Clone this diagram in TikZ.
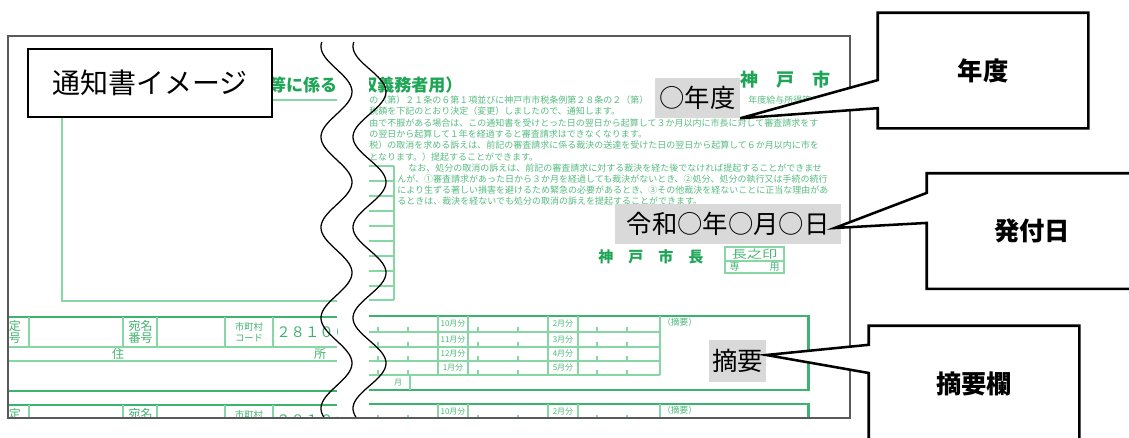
\documentclass[tikz,border=0pt]{standalone}
\usepackage{fontspec}
\newfontfamily\jp{Noto Sans CJK JP}
\usepackage{xcolor}
\usepackage{tikz}
\usetikzlibrary{calc}

\definecolor{formgreen}{RGB}{30,165,85}
\definecolor{linegreen}{RGB}{135,215,165}
\definecolor{rulegreen}{RGB}{60,180,110}
\definecolor{markgray}{RGB}{217,217,217}

\begin{document}
\begin{tikzpicture}[x=0.75pt, y=-0.75pt,
  frameline/.style={draw=black!65, line width=0.9pt},
  thinrule/.style={draw=linegreen, line width=0.8pt},
  thickrule/.style={draw=rulegreen, line width=1.8pt},
  smalltxt/.style={text=formgreen!75, font=\jp\fontsize{6.75}{7}\selectfont, inner sep=0pt, anchor=west},
  celltxt/.style={text=formgreen!85, font=\jp\fontsize{9}{8.5}\selectfont, inner sep=0pt, align=center},
  monthtxt/.style={text=formgreen!80, font=\jp\fontsize{6}{6}\selectfont, inner sep=0pt},
  titletxt/.style={text=formgreen, font=\jp\bfseries\fontsize{12.75}{12.75}\selectfont, inner sep=0pt},
  marklabel/.style={fill=markgray, font=\jp\fontsize{19}{19}\selectfont, inner sep=0pt},
  callbox/.style={minimum width=157.5pt, minimum height=86.25pt, inner sep=0pt},
  calltext/.style={font=\jp\bfseries\fontsize{19}{19}\selectfont, inner sep=0pt},
  callline/.style={draw=black, fill=white, line width=1.9pt, line join=miter},
  wave/.style={draw=black, line width=0.95pt}]
\useasboundingbox (0,0) rectangle (1129,437);
\clip (0,0) rectangle (1129,437);

% left piece of the form
\begin{scope}
\clip (8,36) rectangle (337,418);
\node[titletxt, anchor=east] (ttlLeft) at (337.5,85) {等に係る};
\draw[thinrule] (62,100) rectangle (345,301);
\foreach \y in {317,405} {
  \draw[thickrule] (8,\y) -- (337,\y);
  \draw[thinrule] (8,\y+30) -- (337,\y+30);
  \draw[thinrule] (8,\y+44) -- (337,\y+44);
  \draw[thickrule] (8,\y+74) -- (337,\y+74);
  \foreach \x in {29,123,157,225,273} \draw[thinrule] (\x,\y) -- (\x,\y+30);
  \node[celltxt] (cNum\y) at (9,\y+15) {指定\\番号};
  \node[celltxt] (cAddr\y) at (140.5,\y+15) {宛名\\番号};
  \node[celltxt, font=\jp\fontsize{7}{8.5}\selectfont] (cCity\y) at (249,\y+15) {市町村\\コード};
  \node[celltxt, font=\jp\fontsize{10.8}{10.8}\selectfont, anchor=west] (cCode\y) at (276,\y+15) {２８１００};
  \node[celltxt] (cJu\y) at (118,\y+37) {住};
  \node[celltxt] (cSho\y) at (320,\y+37) {所};
}
\end{scope}

% right piece of the form
\begin{scope}
\clip (369,36) rectangle (850,418);
\node[titletxt, anchor=west] (ttlRight) at (343,85) {徴収義務者用）};
\node[titletxt, anchor=west, font=\jp\bfseries\fontsize{13.5}{13.5}\selectfont] (cityTop) at (740,80) {神　戸　市};
\node[smalltxt] (ln1) at (369,100) {の（第）２１条の６第１項並びに神戸市市税条例第２８条の２（第）};
\node[smalltxt] (ln1b) at (748,100) {年度給与所得等に係};
\foreach \yy/\xx/\txt in {
  111.3/369/税額を下記のとおり決定（変更）しましたので、通知します。,
  122.6/369/由で不服がある場合は、この通知書を受けとった日の翌日から起算して３か月以内に市長に対して審査請求をす,
  134/369/の翌日から起算して１年を経過すると審査請求はできなくなります。,
  145.3/369/税）の取消を求める訴えは、前記の審査請求に係る裁決の送達を受けた日の翌日から起算して６か月以内に市を,
  156.6/369/となります。）提起することができます。,
  168/408/なお、処分の取消の訴えは、前記の審査請求に対する裁決を経た後でなければ提起することができませ,
  179/397/んが、①審査請求があった日から３か月を経過しても裁決がないとき、②処分、処分の執行又は手続の続行,
  190/397/により生ずる著しい損害を避けるため緊急の必要があるとき、③その他裁決を経ないことに正当な理由があ,
  201/397/るときは、裁決を経ないでも処分の取消の訴えを提起することができます。}
  \node[smalltxt] (ln\yy) at (\xx,\yy) {\txt};
\foreach \yy in {166,181,196,211,226,241,256,271,286,300} \draw[thinrule] (360,\yy) -- (394,\yy);
\draw[thinrule] (394,166) -- (394,300);
\node[titletxt, anchor=west, font=\jp\bfseries\fontsize{11.25}{11.25}\selectfont] (mayor) at (598,257) {神　戸　市　長};
\draw[thinrule] (725,247) rectangle (784,273);
\draw[thinrule] (725,261) -- (784,261);
\node[monthtxt, font=\jp\fontsize{8.5}{8.5}\selectfont] (seal) at (754.5,254) {\scalebox{1.35}[1]{長之印}};
\node[monthtxt, font=\jp\fontsize{7.5}{7.5}\selectfont] (sealUse) at (754.5,267) {専　　　用};
\foreach \y in {316,404} {
  \draw[thickrule] (360,\y) -- (808.5,\y) -- (808.5,\y+74) -- (360,\y+74);
  \foreach \r in {16,31,45,59} \draw[thinrule] (360,\y+\r) -- (660,\y+\r);
  \foreach \x in {438,468,548,578,660} \draw[thinrule] (\x,\y) -- (\x,\y+59);
  \foreach \x in {378,408,478,518,597,627}
    \foreach \r in {16,31,45,59} \draw[thinrule] (\x,\y+\r-5) -- (\x,\y+\r);
  \foreach \m/\n/\r in {10/2/8, 11/3/23.5, 12/4/38, 1/5/52} {
    \node[monthtxt] (mA\y-\m) at (453,\y+\r) {\m{}月分};
    \node[monthtxt] (mB\y-\n) at (563,\y+\r) {\n{}月分};
  }
  \draw[thinrule] (410,\y+59) -- (410,\y+74);
  \node[monthtxt] (mon\y) at (398,\y+66.5) {月};
  \node[monthtxt, anchor=west, font=\jp\fontsize{6.5}{6.5}\selectfont] (tek\y) at (662,\y+6) {（摘要）};
}
\end{scope}

\draw[frameline] (8,36) rectangle (850,418);

% break lines
\draw[wave] plot[domain=42:417, samples=150, smooth, variable=\t] ({336.5+15.5*cos(3.978*(\t-91.7))}, \t);
\draw[wave] plot[domain=42:417, samples=150, smooth, variable=\t] ({369.5+16.5*cos(3.978*(\t-91.7))}, \t);

\node[draw=black, line width=1.1pt, fill=white, minimum width=183pt, minimum height=51pt,
  font=\jp\fontsize{21}{21}\selectfont] (lblImage) at (150,83) {通知書イメージ};

% marked items
\node[marklabel, minimum width=63.75pt, minimum height=30pt] (markYear) at (697.5,98) {○年度};
\node[marklabel, minimum width=169.5pt, minimum height=30pt] (markDate) at (728,224) {令和○年○月○日};
\node[marklabel, minimum width=42.4pt, minimum height=31.5pt] (markNote) at (737.75,361) {摘要};

% callouts
\path (983,70.5) node[callbox] (boxYear) {};
\path (1032,231) node[callbox] (boxDate) {};
\path (974,383.5) node[callbox] (boxNote) {};
\filldraw[callline] (boxYear.north west) -- ($(boxYear.north west)!0.583!(boxYear.south west)$)
  -- (markYear.south east) -- ($(boxYear.north west)!0.826!(boxYear.south west)$)
  -- (boxYear.south west) -- (boxYear.south east) -- (boxYear.north east) -- cycle;
\filldraw[callline] (boxDate.north west) -- ($(boxDate.north west)!0.17!(boxDate.south west)$)
  -- ([xshift=-5pt,yshift=-3pt]markDate.east) -- ($(boxDate.north west)!0.43!(boxDate.south west)$)
  -- (boxDate.south west) -- (boxDate.south east) -- (boxDate.north east) -- cycle;
\filldraw[callline] (boxNote.north west) -- ($(boxNote.north west)!0.165!(boxNote.south west)$)
  -- ([yshift=4.5pt]markNote.east) -- ($(boxNote.north west)!0.409!(boxNote.south west)$)
  -- (boxNote.south west) -- (boxNote.south east) -- (boxNote.north east) -- cycle;
\node[calltext] (txtYear) at (boxYear) {年度};
\node[calltext] (txtDate) at (boxDate) {発付日};
\node[calltext] (txtNote) at (boxNote) {摘要欄};
\end{tikzpicture}
\end{document}
